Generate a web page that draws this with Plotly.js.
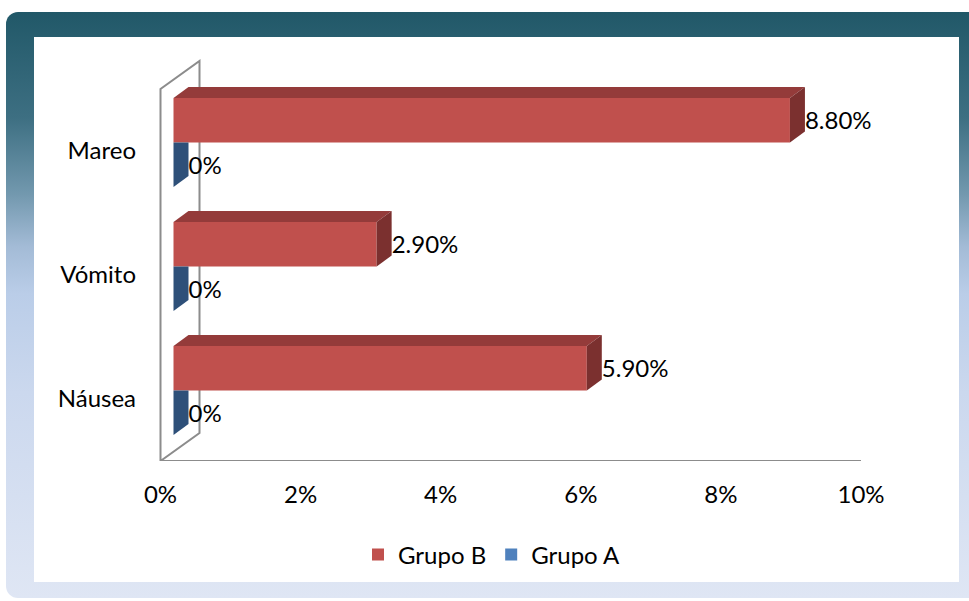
<!DOCTYPE html>
<html>
<head>
<meta charset="utf-8">
<script src="https://cdn.plot.ly/plotly-3.0.1.min.js"></script>
<style>
  html, body { margin:0; padding:0; background:#ffffff; width:969px; height:601px; overflow:hidden; }
  #frame { position:absolute; left:6px; top:12px; width:990px; height:586px; border-radius:12px;
    background: linear-gradient(to bottom, #215868 0%, #3d6f82 18%, #7298ae 31%, #a3bbd6 40%, #bacde8 48%, #cbd8ee 65%, #dfe6f4 100%); }
  #panel { position:absolute; left:34px; top:37px; width:925px; height:545px; background:#ffffff; }
  #chart { position:absolute; left:0; top:0; width:969px; height:601px; }
</style>
</head>
<body>
<div id="frame"></div>
<div id="panel"></div>
<div id="chart"></div>
<script>
// ---- data ----
const categories = ['Náusea', 'Vómito', 'Mareo'];
const grupoB = [5.9, 2.9, 8.8];
const grupoA = [0, 0, 0];
const labelsB = ['5.90%', '2.90%', '8.80%'];
const labelsA = ['0%', '0%', '0%'];
const xTickVals = [0, 2, 4, 6, 8, 10];
const xTickText = ['0%', '2%', '4%', '6%', '8%', '10%'];

// ---- geometry (pixels -> data units) ----
const W = 969, H = 601;
const PX_X = 70.05;          // pixels per 1 %
const PX_Y = 124;            // pixels per category band
const X0_PX = 160.5;         // pixel of 0 %
const FLOOR_PX = 461;        // pixel of floor front edge
const plotL = 140, plotR = 920, plotT = 50, plotB = FLOOR_PX;
const xRange = [(plotL - X0_PX) / PX_X, (plotR - X0_PX) / PX_X];
const yRange = [-0.5, -0.5 + (plotB - plotT) / PX_Y];

const shiftX = 13 / PX_X, shiftY = 8.5 / PX_Y;   // bars sit inside the depth
const depX = 15 / PX_X, depY = 11 / PX_Y;         // bar depth
const wallX = 39 / PX_X, wallY = 28 / PX_Y;       // floor/wall depth
const barW = 44.5 / PX_Y;
const labelDrop = 3 / PX_Y;

const FONT = 'Lato, "Noto Sans", sans-serif';
const red = '#c0504d', redTop = '#943b3a', redSide = '#7b302f';
const blue = '#4f81bd', blueSide = '#2e5079';

const idx = categories.map((c, i) => i);
const traces = [];

// front faces
traces.push({
  type: 'bar', orientation: 'h', name: 'Grupo B',
  y: idx, x: grupoB, base: idx.map(() => shiftX),
  offset: shiftY, width: barW,
  marker: { color: red, line: { width: 0 } }, hoverinfo: 'skip'
});
traces.push({
  type: 'bar', orientation: 'h', name: 'Grupo A',
  y: idx, x: grupoA, base: idx.map(() => shiftX),
  offset: shiftY - barW, width: barW,
  marker: { color: blue, line: { width: 0 } }, hoverinfo: 'skip'
});

// 3D faces
function poly(xs, ys, color) {
  traces.push({ type: 'scatter', mode: 'lines', fill: 'toself', fillcolor: color,
    line: { width: 0, color: color }, x: xs, y: ys, hoverinfo: 'skip', showlegend: false });
}
idx.forEach(i => {
  // Grupo B
  const x0 = shiftX, x1 = shiftX + grupoB[i];
  const yb = i + shiftY, yt = i + shiftY + barW;
  poly([x0, x0 + depX, x1 + depX, x1, x0], [yt, yt + depY, yt + depY, yt, yt], redTop);
  poly([x1, x1 + depX, x1 + depX, x1, x1], [yb, yb + depY, yt + depY, yt, yb], redSide);
  // Grupo A (visible part of its side below the Grupo B bar)
  const a1 = shiftX + grupoA[i];
  const ab = i + shiftY - barW, at = i + shiftY;
  poly([a1, a1 + depX, a1 + depX, a1, a1], [ab, ab + depY, at, at, ab], blueSide);
});

// data labels
traces.push({
  type: 'scatter', mode: 'text', showlegend: false, hoverinfo: 'skip', cliponaxis: false,
  x: grupoB.map(v => shiftX + v + depX), y: idx.map(i => i + shiftY + barW / 2 - labelDrop),
  text: labelsB, textposition: 'middle right',
  textfont: { family: FONT, size: 24, color: '#000000' }
});
traces.push({
  type: 'scatter', mode: 'text', showlegend: false, hoverinfo: 'skip', cliponaxis: false,
  x: grupoA.map(v => shiftX + v + depX), y: idx.map(i => i + shiftY - barW / 2 - labelDrop),
  text: labelsA, textposition: 'middle right',
  textfont: { family: FONT, size: 24, color: '#000000' }
});

// back wall + floor edge (behind the bars)
const wallPath = 'M' + 10 + ',' + (-0.5) +
  ' L0,' + (-0.5) +
  ' L0,' + (idx.length - 0.5) +
  ' L' + wallX + ',' + (idx.length - 0.5 + wallY) +
  ' L' + wallX + ',' + (-0.5 + wallY) +
  ' L0,' + (-0.5);

const layout = {
  width: W, height: H,
  margin: { l: plotL, r: W - plotR, t: plotT, b: H - plotB, pad: 0 },
  paper_bgcolor: 'rgba(0,0,0,0)', plot_bgcolor: 'rgba(0,0,0,0)',
  barmode: 'overlay',
  font: { family: FONT, size: 24, color: '#000000' },
  shapes: [{ type: 'path', xref: 'x', yref: 'y', layer: 'below', path: wallPath,
    line: { color: '#8c8c8c', width: 2 }, fillcolor: 'rgba(0,0,0,0)' }],
  xaxis: { range: xRange, tickvals: xTickVals, ticktext: xTickText, showgrid: false,
    zeroline: false, showline: false, ticks: '', ticklabelstandoff: 17,
    tickfont: { family: FONT, size: 24, color: '#000000' }, fixedrange: true },
  yaxis: { range: yRange, tickvals: idx, ticktext: categories, showgrid: false,
    zeroline: false, showline: false, ticks: '', ticklabelstandoff: 3,
    tickfont: { family: FONT, size: 24, color: '#000000' }, fixedrange: true },
  showlegend: true,
  legend: { orientation: 'h', xref: 'container', yref: 'container',
    x: 492 / W, xanchor: 'center', y: 1 - 555 / H, yanchor: 'middle',
    font: { family: FONT, size: 24, color: '#000000' }, bgcolor: 'rgba(0,0,0,0)',
    itemclick: false, itemdoubleclick: false, traceorder: 'normal' }
};

Plotly.newPlot('chart', traces, layout, { staticPlot: true, displayModeBar: false });
</script>
</body>
</html>
